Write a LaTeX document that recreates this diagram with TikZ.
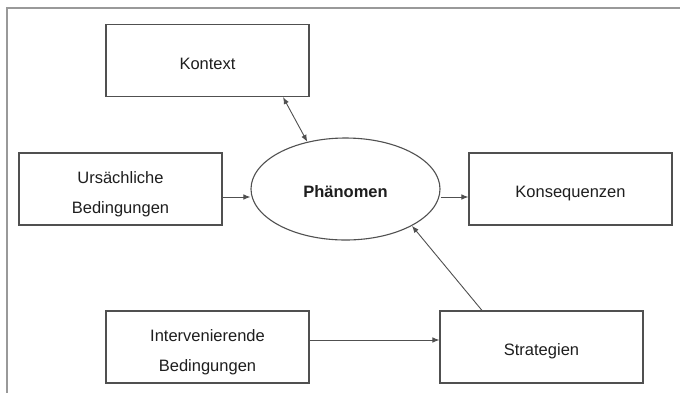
\documentclass[tikz,border=0pt]{standalone}
\usepackage{fontspec}
\setmainfont{Liberation Sans}
\usetikzlibrary{arrows.meta,shapes.geometric}
\definecolor{linec}{HTML}{505050}
\definecolor{txtc}{HTML}{1E1E1E}
\newcommand{\tstrut}{\rule{0pt}{22pt}}
\tikzset{
  boxnode/.style={draw=linec, line width=1.1pt, rectangle, minimum width=203pt, minimum height=72pt, inner sep=0pt, align=center, text=txtc, font=\fontsize{16.5}{30}\selectfont},
  onelinebox/.style={boxnode, text height=22pt, text depth=5pt},
  phnode/.style={draw=linec, line width=1.1pt, ellipse, minimum width=189pt, minimum height=102pt, inner sep=0pt, text=txtc, text height=22pt, text depth=5pt, font=\fontsize{16.5}{20}\selectfont\bfseries},
  conn/.style={draw=linec, line width=0.9pt, -{Latex[length=7pt,width=5.5pt]}},
  conn2/.style={draw=linec, line width=0.9pt, {Latex[length=7pt,width=5.5pt]}-{Latex[length=7pt,width=5.5pt]}}
}
\begin{document}
\begin{tikzpicture}[x=1pt,y=-1pt]
\useasboundingbox (0,0) rectangle (680,392);
\clip (0,0) rectangle (680,392);
\fill[white] (0,0) rectangle (680,392);
\draw[color=gray!80, line width=1.2pt] (7,8) rectangle (720,430);
\node[onelinebox] (kon) at (207.5,60.5) {Kontext};
\node[boxnode] (urs) at (120.5,189) {\tstrut Ursächliche\\Bedingungen};
\node[phnode] (ph) at (345.5,189) {Phänomen};
\node[onelinebox] (kq) at (570.5,189) {Konsequenzen};
\node[boxnode] (int) at (207.5,347) {\tstrut Intervenierende\\Bedingungen};
\node[onelinebox] (str) at (541.5,347) {Strategien};
\draw[conn2] (kon.south -| 283,0) -- (ph.129);
\draw[conn] (urs.east |- 0,197) -- (ph.west |- 0,197);
\draw[conn] (ph.east |- 0,197) -- (kq.west |- 0,197);
\draw[conn] (int.east |- 0,340) -- (str.west |- 0,340);
\draw[conn] (str.north -| 482,0) -- (ph.-29);
\end{tikzpicture}
\end{document}
